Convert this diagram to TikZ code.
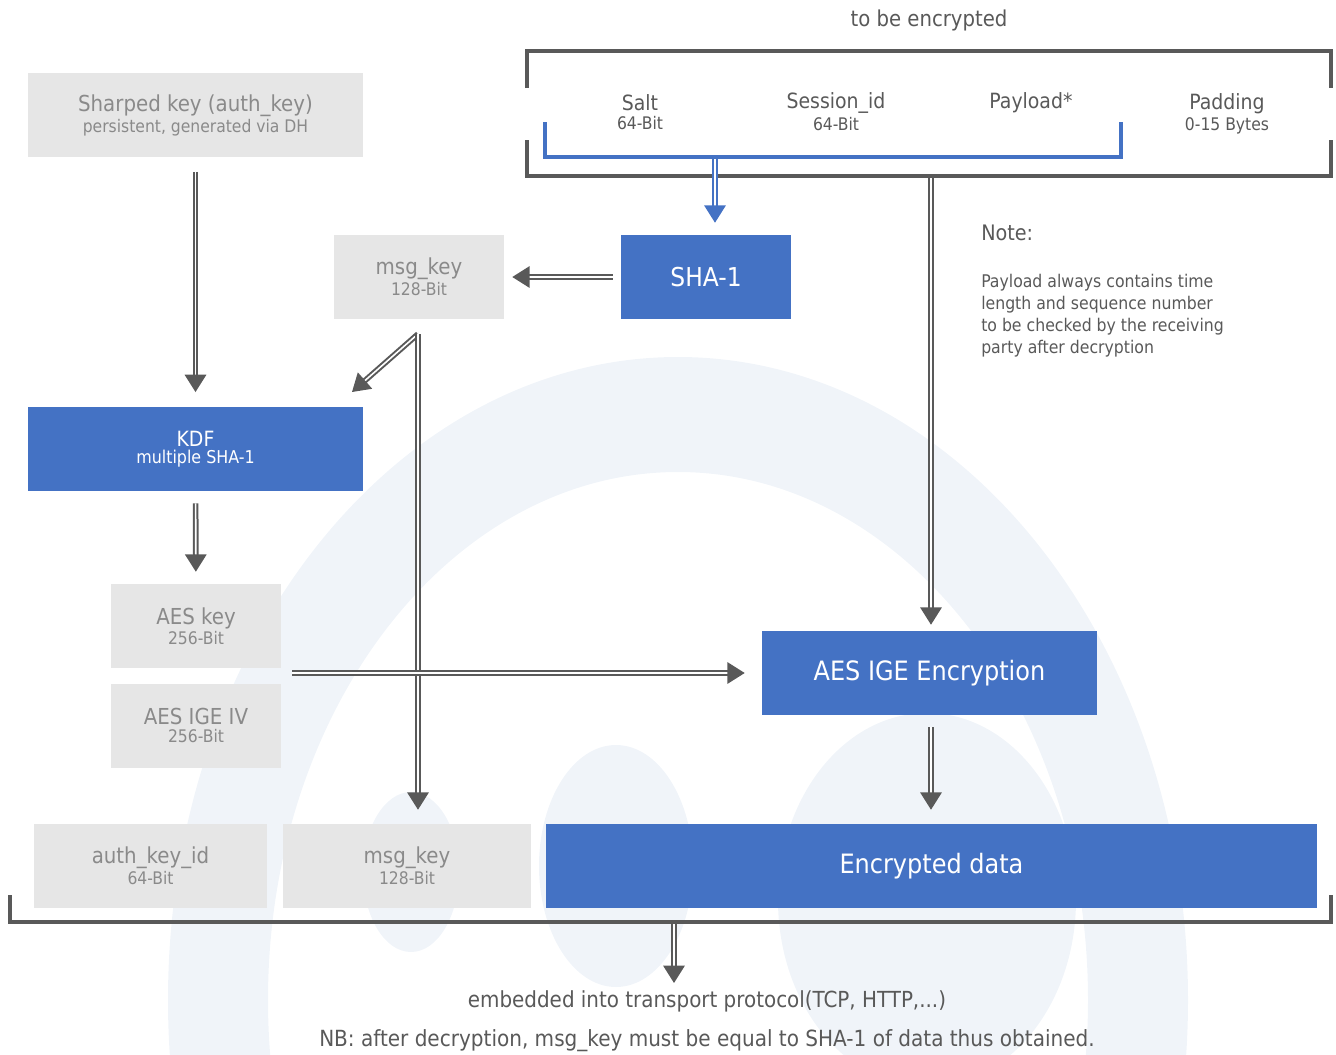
\documentclass[tikz,border=0pt]{standalone}
\usepackage{fontspec}
\setmainfont{DejaVu Sans Condensed}
\usetikzlibrary{positioning, arrows.meta}

\definecolor{boxblue}{HTML}{4472C4}
\definecolor{boxgray}{HTML}{E6E6E6}
\definecolor{textgray}{HTML}{8A8A8A}
\definecolor{linegray}{HTML}{595959}
\definecolor{markblue}{HTML}{F0F4F9}

\begin{document}
\begin{tikzpicture}[
        x=0.75pt, y=-0.75pt, % one unit = one pixel of the reference
        graybox/.style={rectangle, fill=boxgray, text=textgray, align=center, minimum height=63pt, inner sep=0pt},
        bluebox/.style={rectangle, fill=boxblue, text=white, align=center, minimum height=63pt, inner sep=0pt},
        flow/.style={draw=linegray, line width=1.5pt, double=white, double distance=1.2pt, -{Triangle[length=13pt, width=16pt]}},
        blueflow/.style={flow, draw=boxblue},
        bracket/.style={draw=linegray, line width=3pt},
        bluebracket/.style={draw=boxblue, line width=3pt},
        plain/.style={text=linegray, inner sep=0pt}
    ]

    % Background mark
    \useasboundingbox (0,0) rectangle (1336,1054);
    \begin{scope}
        \clip (0,0) rectangle (1336,1054);
        \fill[markblue, even odd rule] (678,1000) ellipse [x radius=510, y radius=643]
            (678,1000) ellipse [x radius=410, y radius=528];
        \fill[markblue] (616,866) ellipse [x radius=77, y radius=121];
        \fill[markblue] (927,900) ellipse [x radius=149, y radius=187];
        \fill[markblue] (411,872) ellipse [x radius=48, y radius=80];
    \end{scope}

    % Nodes
    \node[graybox, minimum width=251.25pt] (authkey) at (195.5,115)
        {{\fontsize{16.5}{18}\selectfont Sharped key (auth\_key)}\\[1pt]{\fontsize{13}{14}\selectfont persistent, generated via DH}};
    \node[graybox, minimum width=127.5pt] (msgkey) at (419,277)
        {{\fontsize{16.5}{18}\selectfont msg\_key}\\[1pt]{\fontsize{13}{14}\selectfont 128-Bit}};
    \node[bluebox, minimum width=127.5pt, font=\fontsize{19.5}{21}\selectfont] (sha) at (706,277) {SHA-1};
    \node[bluebox, minimum width=251.25pt] (kdf) at (195.5,449)
        {{\fontsize{15.75}{17}\selectfont KDF}\\[1pt]{\fontsize{13.25}{14}\selectfont multiple SHA-1}};
    \node[graybox, minimum width=127.5pt] (aeskey) at (196,626)
        {{\fontsize{16.5}{18}\selectfont AES key}\\[1pt]{\fontsize{13}{14}\selectfont 256-Bit}};
    \node[graybox, minimum width=127.5pt] (aesiv) at (196,725.5)
        {{\fontsize{16.5}{18}\selectfont AES IGE IV}\\[1pt]{\fontsize{13}{14}\selectfont 256-Bit}};
    \node[bluebox, minimum width=251.25pt, font=\fontsize{20}{22}\selectfont] (aesige) at (929.5,673) {AES IGE Encryption};
    \node[graybox, minimum width=174.75pt] (authkeyid) at (150.5,866)
        {{\fontsize{16.5}{18}\selectfont auth\_key\_id}\\[1pt]{\fontsize{13}{14}\selectfont 64-Bit}};
    \node[graybox, minimum width=186pt] (msgkeyout) at (407,866)
        {{\fontsize{16.5}{18}\selectfont msg\_key}\\[1pt]{\fontsize{13}{14}\selectfont 128-Bit}};
    \node[bluebox, minimum width=578.25pt, font=\fontsize{20}{22}\selectfont] (encdata) at (931.5,866) {Encrypted data};

    % Message parts
    \node[plain, align=center] (salt) at (640,112)
        {{\fontsize{15.75}{17}\selectfont Salt}\\[2pt]{\fontsize{13}{14}\selectfont 64-Bit}};
    \node[plain, align=center] (session) at (836,112)
        {{\fontsize{15.75}{17}\selectfont Session\_id}\\[2pt]{\fontsize{13}{14}\selectfont 64-Bit}};
    \node[plain, anchor=base, font=\fontsize{15.75}{17}\selectfont] (payload) at (1031,108) {Payload*};
    \node[plain, align=center] (padding) at (1227,114)
        {{\fontsize{15.75}{17}\selectfont Padding}\\[2pt]{\fontsize{13}{14}\selectfont 0-15 Bytes}};

    % Labels
    \node[plain, font=\fontsize{16.4}{18}\selectfont] (title) at (929,20) {to be encrypted};
    \node[plain, anchor=west, font=\fontsize{16}{18}\selectfont] (note) at (981,233) {Note:};
    \node[plain, anchor=north west, align=left, font=\fontsize{13.1}{16.5}\selectfont] (notetext) at (981,274)
        {Payload always contains time\\length and sequence number\\to be checked by the receiving\\party after decryption};
    \node[plain, font=\fontsize{16.6}{18}\selectfont] (transport) at (707,1001) {embedded into transport protocol(TCP, HTTP,...)};
    \node[plain, font=\fontsize{16.7}{18}\selectfont] (nb) at (707,1041) {NB: after decryption, msg\_key must be equal to SHA-1 of data thus obtained.};

    % Brackets
    \draw[bracket] (527,88) -- (527,51) -- (1331,51) -- (1331,88);
    \draw[bracket] (527,140) -- (527,176) -- (1331,176) -- (1331,140);
    \draw[bluebracket] (545,122) -- (545,157) -- (1121,157) -- (1121,122);
    \draw[bracket] (10,895) -- (10,922) -- (1331,922) -- (1331,895);
    \coordinate (hashsrc) at (715,159);
    \coordinate (encsrc) at (931,178);
    \coordinate (keysrc) at (292,673);
    \coordinate (split) at (418,334);
    \coordinate (outsrc) at (674,924);

    % Connections
    \draw[flow, shorten <=11pt, shorten >=11pt] (authkey) -- (kdf);
    \draw[blueflow, shorten >=9pt] (hashsrc) -- (hashsrc |- sha.north);
    \draw[flow, shorten <=6pt, shorten >=6pt] (sha) -- (msgkey);
    \draw[flow] (split) -- (352,392);
    \draw[flow, shorten >=10.5pt] (split) -- (split |- msgkeyout.north);
    \draw[flow, shorten <=9pt, shorten >=9pt] (kdf) -- (aeskey);
    \draw[flow, shorten >=12.75pt] (keysrc) -- (aesige.west);
    \draw[flow, shorten >=4.5pt] (encsrc) -- (encsrc |- aesige.north);
    \draw[flow, shorten <=9pt, shorten >=10.5pt] (aesige.south -| encsrc) -- (encsrc |- encdata.north);
    \draw[flow] (outsrc) -- (674,983);

\end{tikzpicture}
\end{document}
